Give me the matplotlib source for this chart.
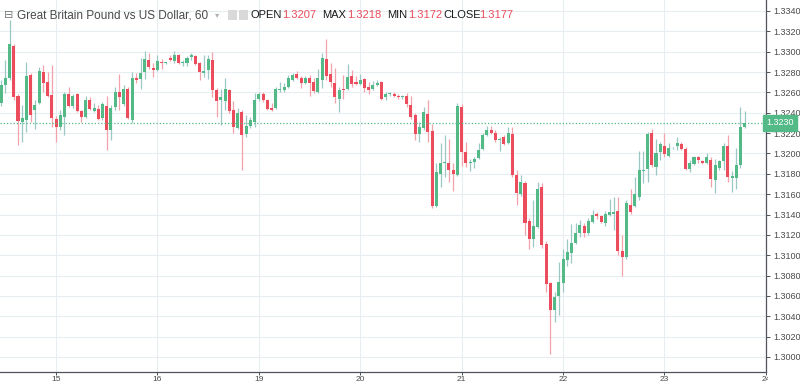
import matplotlib
matplotlib.use("Agg")
import matplotlib.pyplot as plt
import matplotlib.transforms as mtransforms
import numpy as np

# GBP/USD hourly candles, first candle is 14th 11:00
first_hour = 11
day_labels = ["15", "16", "19", "20", "21", "22", "23", "24"]

opens = [
    1.3250, 1.3267, 1.3274, 1.3306, 1.3256, 1.3231, 1.3233, 1.3277, 1.3243, 1.3250, 1.3280, 1.3270,
    1.3257, 1.3234, 1.3226, 1.3236, 1.3258, 1.3247, 1.3258, 1.3242, 1.3236, 1.3253, 1.3242, 1.3244,
    1.3235, 1.3247, 1.3223, 1.3246, 1.3260, 1.3249, 1.3263, 1.3233, 1.3274, 1.3273, 1.3280, 1.3292,
    1.3284, 1.3282, 1.3290, 1.3289, 1.3294, 1.3291, 1.3297, 1.3289, 1.3289, 1.3295, 1.3296, 1.3289,
    1.3279, 1.3282, 1.3292, 1.3262, 1.3253, 1.3252, 1.3262, 1.3243, 1.3225, 1.3241, 1.3219, 1.3227,
    1.3231, 1.3254, 1.3258, 1.3253, 1.3245, 1.3245, 1.3262, 1.3262, 1.3265, 1.3272, 1.3278, 1.3274,
    1.3269, 1.3274, 1.3270, 1.3260, 1.3272, 1.3293, 1.3278, 1.3269, 1.3254, 1.3263, 1.3263, 1.3276,
    1.3270, 1.3268, 1.3273, 1.3265, 1.3263, 1.3267, 1.3270, 1.3255, 1.3258, 1.3258, 1.3256, 1.3255,
    1.3256, 1.3248, 1.3238, 1.3219, 1.3225, 1.3239, 1.3222, 1.3148, 1.3180, 1.3191, 1.3191, 1.3184,
    1.3179, 1.3246, 1.3201, 1.3191, 1.3192, 1.3196, 1.3204, 1.3218, 1.3223, 1.3220, 1.3213, 1.3216,
    1.3210, 1.3219, 1.3179, 1.3160, 1.3171, 1.3134, 1.3116, 1.3128, 1.3167, 1.3111, 1.3073, 1.3046,
    1.3060, 1.3073, 1.3095, 1.3102, 1.3112, 1.3122, 1.3129, 1.3122, 1.3133, 1.3141, 1.3139, 1.3132,
    1.3140, 1.3141, 1.3143, 1.3104, 1.3098, 1.3149, 1.3148, 1.3157, 1.3183, 1.3185, 1.3220, 1.3187,
    1.3201, 1.3207, 1.3198, 1.3205, 1.3207, 1.3209, 1.3204, 1.3185, 1.3190, 1.3197, 1.3193, 1.3191,
    1.3194, 1.3174, 1.3186, 1.3193, 1.3207, 1.3176, 1.3176, 1.3189, 1.3226,
]
highs = [
    1.3272, 1.3292, 1.3331, 1.3308, 1.3258, 1.3248, 1.3290, 1.3279, 1.3253, 1.3285, 1.3287, 1.3280,
    1.3287, 1.3237, 1.3243, 1.3260, 1.3265, 1.3258, 1.3259, 1.3243, 1.3256, 1.3255, 1.3250, 1.3248,
    1.3251, 1.3256, 1.3248, 1.3265, 1.3278, 1.3267, 1.3265, 1.3280, 1.3279, 1.3294, 1.3301, 1.3299,
    1.3289, 1.3297, 1.3293, 1.3290, 1.3297, 1.3301, 1.3298, 1.3292, 1.3296, 1.3299, 1.3297, 1.3290,
    1.3297, 1.3297, 1.3300, 1.3264, 1.3263, 1.3274, 1.3263, 1.3252, 1.3245, 1.3243, 1.3238, 1.3236,
    1.3259, 1.3260, 1.3260, 1.3254, 1.3250, 1.3265, 1.3270, 1.3269, 1.3277, 1.3279, 1.3281, 1.3276,
    1.3276, 1.3277, 1.3274, 1.3283, 1.3299, 1.3312, 1.3289, 1.3284, 1.3265, 1.3277, 1.3288, 1.3282,
    1.3276, 1.3278, 1.3274, 1.3270, 1.3271, 1.3272, 1.3271, 1.3260, 1.3260, 1.3260, 1.3258, 1.3257,
    1.3259, 1.3256, 1.3240, 1.3231, 1.3246, 1.3253, 1.3229, 1.3191, 1.3210, 1.3218, 1.3214, 1.3191,
    1.3250, 1.3249, 1.3211, 1.3195, 1.3197, 1.3210, 1.3220, 1.3227, 1.3227, 1.3223, 1.3216, 1.3218,
    1.3226, 1.3226, 1.3184, 1.3179, 1.3173, 1.3137, 1.3154, 1.3172, 1.3171, 1.3114, 1.3074, 1.3064,
    1.3093, 1.3106, 1.3116, 1.3131, 1.3132, 1.3135, 1.3132, 1.3137, 1.3144, 1.3142, 1.3140, 1.3143,
    1.3155, 1.3157, 1.3157, 1.3120, 1.3154, 1.3165, 1.3177, 1.3202, 1.3202, 1.3221, 1.3224, 1.3214,
    1.3211, 1.3220, 1.3210, 1.3206, 1.3216, 1.3211, 1.3206, 1.3194, 1.3198, 1.3198, 1.3194, 1.3200,
    1.3197, 1.3195, 1.3194, 1.3210, 1.3218, 1.3183, 1.3205, 1.3246, 1.3242,
]
lows = [
    1.3247, 1.3259, 1.3272, 1.3253, 1.3208, 1.3211, 1.3221, 1.3231, 1.3224, 1.3249, 1.3260, 1.3255,
    1.3226, 1.3211, 1.3223, 1.3218, 1.3246, 1.3245, 1.3241, 1.3231, 1.3235, 1.3243, 1.3241, 1.3233,
    1.3233, 1.3203, 1.3213, 1.3243, 1.3243, 1.3247, 1.3234, 1.3230, 1.3269, 1.3263, 1.3273, 1.3283,
    1.3275, 1.3281, 1.3283, 1.3288, 1.3291, 1.3289, 1.3288, 1.3286, 1.3286, 1.3292, 1.3287, 1.3272,
    1.3275, 1.3273, 1.3255, 1.3236, 1.3228, 1.3243, 1.3240, 1.3220, 1.3224, 1.3184, 1.3216, 1.3225,
    1.3226, 1.3252, 1.3251, 1.3243, 1.3242, 1.3244, 1.3260, 1.3260, 1.3264, 1.3271, 1.3273, 1.3264,
    1.3268, 1.3256, 1.3259, 1.3259, 1.3264, 1.3272, 1.3265, 1.3250, 1.3241, 1.3254, 1.3262, 1.3265,
    1.3267, 1.3267, 1.3260, 1.3258, 1.3262, 1.3266, 1.3253, 1.3253, 1.3256, 1.3255, 1.3254, 1.3254,
    1.3246, 1.3234, 1.3213, 1.3211, 1.3223, 1.3211, 1.3146, 1.3147, 1.3167, 1.3177, 1.3172, 1.3163,
    1.3178, 1.3188, 1.3187, 1.3183, 1.3186, 1.3195, 1.3203, 1.3217, 1.3219, 1.3211, 1.3202, 1.3208,
    1.3209, 1.3177, 1.3149, 1.3158, 1.3120, 1.3106, 1.3108, 1.3127, 1.3107, 1.3064, 1.3003, 1.3034,
    1.3041, 1.3064, 1.3089, 1.3092, 1.3111, 1.3118, 1.3118, 1.3120, 1.3132, 1.3136, 1.3132, 1.3129,
    1.3139, 1.3125, 1.3100, 1.3080, 1.3096, 1.3141, 1.3147, 1.3154, 1.3171, 1.3172, 1.3187, 1.3179,
    1.3194, 1.3197, 1.3197, 1.3204, 1.3203, 1.3203, 1.3184, 1.3182, 1.3189, 1.3191, 1.3190, 1.3190,
    1.3167, 1.3161, 1.3184, 1.3184, 1.3172, 1.3162, 1.3165, 1.3186, 1.3225,
]
closes = [
    1.3267, 1.3274, 1.3308, 1.3255, 1.3232, 1.3235, 1.3276, 1.3238, 1.3248, 1.3281, 1.3269, 1.3256,
    1.3235, 1.3226, 1.3238, 1.3258, 1.3247, 1.3256, 1.3242, 1.3236, 1.3253, 1.3244, 1.3245, 1.3234,
    1.3249, 1.3223, 1.3245, 1.3260, 1.3255, 1.3263, 1.3235, 1.3274, 1.3272, 1.3279, 1.3293, 1.3285,
    1.3282, 1.3291, 1.3289, 1.3290, 1.3292, 1.3297, 1.3289, 1.3290, 1.3294, 1.3297, 1.3288, 1.3280,
    1.3281, 1.3293, 1.3262, 1.3252, 1.3255, 1.3263, 1.3242, 1.3226, 1.3240, 1.3218, 1.3227, 1.3233,
    1.3253, 1.3258, 1.3253, 1.3244, 1.3243, 1.3263, 1.3263, 1.3265, 1.3274, 1.3277, 1.3274, 1.3269,
    1.3274, 1.3269, 1.3261, 1.3274, 1.3294, 1.3276, 1.3270, 1.3255, 1.3262, 1.3262, 1.3275, 1.3268,
    1.3268, 1.3272, 1.3264, 1.3262, 1.3267, 1.3269, 1.3254, 1.3258, 1.3259, 1.3256, 1.3255, 1.3256,
    1.3249, 1.3236, 1.3219, 1.3226, 1.3241, 1.3221, 1.3148, 1.3182, 1.3191, 1.3192, 1.3184, 1.3180,
    1.3247, 1.3201, 1.3191, 1.3192, 1.3195, 1.3203, 1.3218, 1.3223, 1.3220, 1.3213, 1.3214, 1.3209,
    1.3220, 1.3179, 1.3161, 1.3172, 1.3132, 1.3116, 1.3129, 1.3165, 1.3110, 1.3072, 1.3046, 1.3059,
    1.3074, 1.3096, 1.3103, 1.3112, 1.3122, 1.3130, 1.3122, 1.3134, 1.3140, 1.3139, 1.3133, 1.3141,
    1.3142, 1.3142, 1.3104, 1.3098, 1.3151, 1.3142, 1.3160, 1.3184, 1.3184, 1.3219, 1.3189, 1.3200,
    1.3209, 1.3199, 1.3205, 1.3205, 1.3210, 1.3204, 1.3185, 1.3191, 1.3197, 1.3194, 1.3191, 1.3197,
    1.3175, 1.3189, 1.3193, 1.3207, 1.3177, 1.3178, 1.3189, 1.3226, 1.3230,
]
last_price = 1.3230

# values shown in the header (hovered candle)
header_names = ["OPEN", "MAX", "MIN", "CLOSE"]
header_values = [1.3207, 1.3218, 1.3172, 1.3177]

UP = "#53b987"
DOWN = "#eb4d5c"
UP_WICK = "#9cc8c4"
DOWN_WICK = "#f3a1ab"
GRID = "#e8edf2"
AXIS = "#50535e"
TEXT = "#4a4a4a"

o = np.array(opens)
h = np.array(highs)
l = np.array(lows)
c = np.array(closes)
x = np.arange(len(o))
up = c >= o

fig = plt.figure(figsize=(8, 3.86), dpi=100)
ax = fig.add_axes([0, 14 / 386, 766 / 800, 372 / 386])

# wicks behind bodies
ax.vlines(x, l, h, colors=np.where(up, UP_WICK, DOWN_WICK), linewidth=0.9, zorder=2)
body_low = np.minimum(o, c)
body_h = np.maximum(np.abs(c - o), 0.00008)
ax.bar(x, body_h, bottom=body_low, width=0.72,
       color=np.where(up, UP, DOWN), linewidth=0, zorder=3)

# current price line
ax.axhline(last_price, color=UP, linestyle=(0, (1, 1.6)), linewidth=0.9, zorder=4)

# axes ranges
ax.set_xlim(-0.26, 181.04)
ax.set_ylim(1.298526, 1.33508)

yticks = np.round(np.arange(1.3000, 1.33401, 0.0020), 4)
ax.set_yticks(yticks)
ax.set_yticklabels([f"{v:.4f}" for v in yticks])
day_idx = [(24 - first_hour) + 24 * k for k in range(len(day_labels))]
ax.set_xticks(day_idx)
ax.set_xticklabels(day_labels)

ax.grid(True, color=GRID, linewidth=0.8, zorder=0)
ax.set_axisbelow(True)

ax.yaxis.tick_right()
for side in ["top", "left"]:
    ax.spines[side].set_visible(False)
for side in ["right", "bottom"]:
    ax.spines[side].set_color(AXIS)
    ax.spines[side].set_linewidth(0.9)
ax.tick_params(axis="y", colors=AXIS, length=3, width=0.7, labelsize=6.5,
               labelcolor=TEXT, pad=2)
ax.tick_params(axis="x", colors=AXIS, length=2.5, width=0.7, labelsize=6,
               labelcolor=TEXT, pad=0.5)
for lab in ax.get_yticklabels() + ax.get_xticklabels():
    lab.set_fontfamily("Liberation Sans")

# the last day label is cut by the price scale
clip = mtransforms.Bbox.from_extents(0, 0, 768, 386)
last_lab = ax.get_xticklabels()[-1]
last_lab.set_clip_box(clip)
last_lab.set_clip_on(True)

# price label on the scale
ax.text(1.0, last_price, "1.3230", transform=ax.get_yaxis_transform(),
        ha="left", va="center", color="white", fontsize=6.5, family="Liberation Sans",
        bbox=dict(boxstyle="square,pad=0.35", facecolor=UP, edgecolor=UP),
        zorder=6, clip_on=False)

# header
ty = 1 - 15 / 386
fig.text(4 / 800, ty, "\u229f", fontsize=8, color="#777777", va="center", family="DejaVu Sans")
fig.text(17 / 800, ty, "Great Britain Pound vs US Dollar, 60", fontsize=8.5, color=TEXT,
         va="center", family="Liberation Sans")
fig.text(215 / 800, ty, "\u25be", fontsize=6, color="#b0b0b0", va="center", family="DejaVu Sans")
for px in [228, 239]:
    fig.patches.append(plt.Rectangle((px / 800, ty - 5 / 386), 9 / 800, 10 / 386,
                                     transform=fig.transFigure, facecolor="#d9d9d9",
                                     edgecolor="none"))
name_x = [251, 322, 387, 443]
val_x = [282, 347, 408, 479]
for name, val, nx, vx in zip(header_names, header_values, name_x, val_x):
    fig.text(nx / 800, ty, name, fontsize=8, color="#1a1a1a", va="center", family="Liberation Sans")
    fig.text(vx / 800, ty, f"{val:.4f}", fontsize=8, color=DOWN, va="center", family="Liberation Sans")

fig.savefig("out.png", dpi=100)
